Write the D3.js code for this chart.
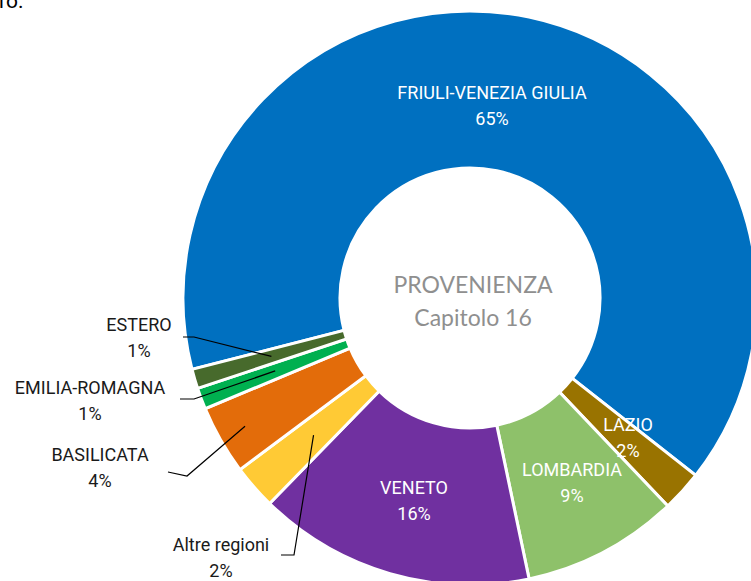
<!DOCTYPE html>
<html>
<head>
<meta charset="utf-8">
<script src="https://cdn.jsdelivr.net/npm/d3@7"></script>
<style>
  body { margin: 0; background: #fff; }
  svg { display: block; }
</style>
</head>
<body>
<div id="chart"></div>
<script>
// provenienza, capitolo 16 (clockwise, starting from Friuli)
let categories = ['FRIULI-VENEZIA GIULIA', 'LAZIO', 'LOMBARDIA', 'VENETO',
  'Altre regioni', 'BASILICATA', 'EMILIA-ROMAGNA', 'ESTERO'];
let values = [64.6, 2.3, 8.8, 15.6, 2.5, 3.9, 1.2, 1.1];
let pctLabels = ['65%', '2%', '9%', '16%', '2%', '4%', '1%', '1%'];
let colors = ['#0070C0', '#997300', '#8EC16A', '#7030A0',
  '#FFCA35', '#E36C0A', '#00B050', '#476A2C'];

let buildDonut = function() {
  let width = 751, height = 581;
  let cx = 470, cy = 298;
  let outer = 287, inner = 130;

  let svg = d3.select('#chart')
    .append('svg')
    .attr('width', width)
    .attr('height', height);

  // bit of page text cut off at the top
  svg.append('text')
    .attr('x', -1).attr('y', 8)
    .attr('font-family', 'Roboto, sans-serif')
    .attr('font-size', 21)
    .attr('fill', '#000')
    .text('ro.');

  let g = svg.append('g')
    .attr('transform', `translate(${cx}, ${cy})`);

  let start = -104.4 * Math.PI / 180;
  let pie = d3.pie().sort(null).value(d => d)
    .startAngle(start).endAngle(start + 2 * Math.PI);
  let arcs = pie(values);

  let arc = d3.arc().innerRadius(inner).outerRadius(outer);

  g.selectAll('path.slice')
    .data(arcs)
    .enter().append('path')
    .classed('slice', true)
    .attr('d', arc)
    .attr('fill', (d, i) => colors[i])
    .attr('stroke', '#fff')
    .attr('stroke-width', 3)
    .attr('stroke-linejoin', 'miter');

  // label placement, relative to donut center (Excel moved them by hand)
  let labelPos = {
    0: {x: 22, y: -205, inside: true},
    1: {x: 158, y: 127, inside: true},
    2: {x: 102, y: 172, inside: true},
    3: {x: -56, y: 190, inside: true},
    4: {x: -249, y: 247, line: [[-189, 257], [-176, 257]], r: 208},
    5: {x: -370, y: 157, line: [[-302, 174], [-283, 178]], r: 259},
    6: {x: -380, y: 90, line: [[-290, 101], [-276, 101]], r: 208},
    7: {x: -331, y: 27, line: [[-287, 39], [-276, 39]], r: 207}
  };

  arcs.forEach(function(d, i) {
    let p = labelPos[i];
    let fill = p.inside ? '#fff' : '#1a1a1a';
    let t = g.append('text')
      .attr('text-anchor', 'middle')
      .attr('font-family', 'Roboto, sans-serif')
      .attr('font-size', 18)
      .attr('font-weight', 400)
      .attr('fill', fill);
    t.append('tspan').attr('x', p.x).attr('y', p.y + 6).text(categories[i]);
    t.append('tspan').attr('x', p.x).attr('y', p.y + 32).text(pctLabels[i]);

    if (p.line) {
      let mid = (d.startAngle + d.endAngle) / 2;
      let end = [p.r * Math.sin(mid), -p.r * Math.cos(mid)];
      g.append('path')
        .attr('d', d3.line()(p.line.concat([end])))
        .attr('fill', 'none')
        .attr('stroke', '#000')
        .attr('stroke-width', 1.2);
    }
  });

  // center title
  g.append('text')
    .attr('text-anchor', 'middle')
    .attr('x', 3).attr('y', -5)
    .attr('font-family', 'Lato, sans-serif')
    .attr('font-size', 23)
    .attr('fill', '#8f8f8f')
    .text('PROVENIENZA');
  g.append('text')
    .attr('text-anchor', 'middle')
    .attr('x', 3).attr('y', 28)
    .attr('font-family', 'Lato, sans-serif')
    .attr('font-size', 23)
    .attr('fill', '#8f8f8f')
    .text('Capitolo 16');
};

buildDonut();
</script>
</body>
</html>
